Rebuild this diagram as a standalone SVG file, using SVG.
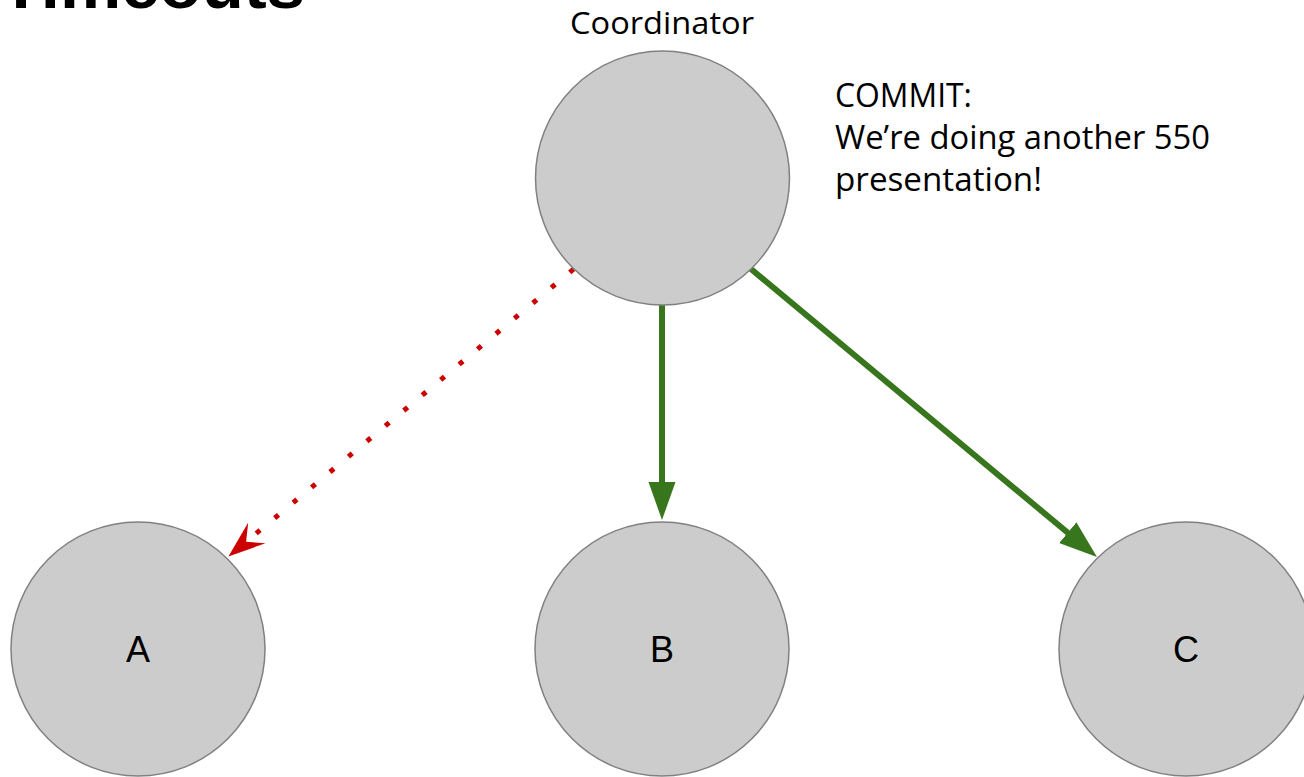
<svg xmlns="http://www.w3.org/2000/svg" width="1304" height="777" viewBox="0 0 1304 777">
  <style>
    .node { fill: #cccccc; stroke: #808080; stroke-width: 1.5; }
    .lbl { font-family: "Liberation Sans", Arial, sans-serif; font-size: 36px; fill: #000; text-anchor: middle; }
    .txt { font-family: "Open Sans", "Noto Sans", sans-serif; fill: #000; }
    .title { font-family: "Liberation Sans", Arial, sans-serif; font-weight: bold; font-size: 64px; fill: #000; }
    .ok { stroke: #38761d; stroke-width: 6; fill: none; }
    .lost { stroke: #cc0000; stroke-width: 5; fill: none; stroke-dasharray: 5 19; }
  </style>
  <defs>
    <marker id="arrowGreen" markerUnits="userSpaceOnUse" markerWidth="40" markerHeight="30" viewBox="0 -15 40 30" refX="2" refY="0" orient="auto">
      <path d="M0,-13.5 L38,0 L0,13.5 Z" fill="#38761d"/>
    </marker>
    <marker id="arrowRed" markerUnits="userSpaceOnUse" markerWidth="40" markerHeight="30" viewBox="0 -15 40 30" refX="1" refY="0" orient="auto">
      <path d="M0,-13.5 L37,0 L0,13.5 L14,0 Z" fill="#cc0000"/>
    </marker>
  </defs>
  <rect width="1304" height="777" fill="#ffffff"/>
  <text class="title" x="0" y="8" textLength="305" lengthAdjust="spacingAndGlyphs">Timeouts</text>

  <g id="connectors">
    <line class="lost" x1="573.6" y1="269.1" x2="256.1" y2="533.5" marker-end="url(#arrowRed)"/>
    <line class="ok" x1="662" y1="305" x2="662" y2="484" marker-end="url(#arrowGreen)"/>
    <line class="ok" x1="751" y1="269" x2="1069.3" y2="534" marker-end="url(#arrowGreen)"/>
  </g>

  <g id="coordinator">
    <circle class="node" cx="662.5" cy="178" r="127"/>
    <text class="txt" x="662" y="34" font-size="31" text-anchor="middle" textLength="184" lengthAdjust="spacingAndGlyphs">Coordinator</text>
  </g>
  <g id="commit-note">
    <text class="txt" x="835" y="107" font-size="33" textLength="137" lengthAdjust="spacingAndGlyphs">COMMIT:</text>
    <text class="txt" x="835" y="149" font-size="33" textLength="375" lengthAdjust="spacingAndGlyphs">We’re doing another 550</text>
    <text class="txt" x="835" y="191" font-size="33" textLength="207" lengthAdjust="spacingAndGlyphs">presentation!</text>
  </g>
  <g id="node-a">
    <circle class="node" cx="138" cy="649" r="127"/>
    <text class="lbl" x="138" y="662">A</text>
  </g>
  <g id="node-b">
    <circle class="node" cx="662" cy="649" r="127"/>
    <text class="lbl" x="662" y="662">B</text>
  </g>
  <g id="node-c">
    <circle class="node" cx="1186" cy="649" r="127"/>
    <text class="lbl" x="1186" y="662">C</text>
  </g>
</svg>
